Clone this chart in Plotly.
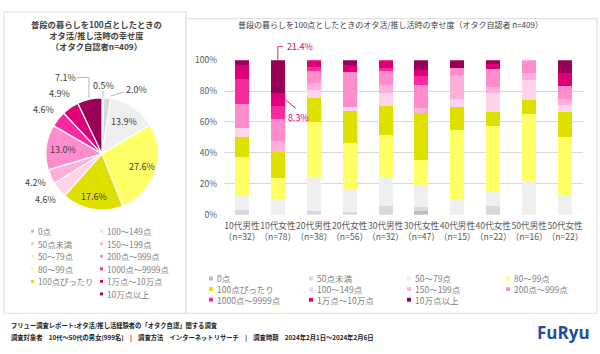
import math
import plotly.graph_objects as go

W, H = 600, 354
FONT = "Noto Sans CJK JP"

# ---------------- data ----------------
categories = ["0点", "50点未満", "50～79点", "80～99点", "100点ぴったり",
              "100～149点", "150～199点", "200点～999点", "1000点～9999点",
              "1万点～10万点", "10万点以上"]
colors = ["#bdbdbd", "#d9d9d9", "#efefef", "#ffff66", "#dfdf00",
          "#ffd3ea", "#ffb0da", "#ff8ccd", "#f72aa0", "#df0079", "#9b0058"]

pie_values = [0.5, 2.0, 13.9, 27.6, 17.6, 4.6, 4.2, 13.0, 4.6, 4.9, 7.1]

groups = ["10代男性", "10代女性", "20代男性", "20代女性", "30代男性",
          "30代女性", "40代男性", "40代女性", "50代男性", "50代女性"]
group_n = [32, 78, 38, 56, 32, 47, 15, 22, 16, 22]

# percentages per group, in category order
m10 = [0, 3.1, 9.4, 25.0, 12.5, 6.3, 0, 15.6, 15.6, 9.4, 3.1]
f10 = [0, 0, 9.3, 14.3, 17.2, 0, 6.8, 14.4, 8.3, 8.3, 21.4]
m20 = [0, 2.1, 22.3, 35.6, 15.6, 5.0, 4.8, 7.7, 2.3, 4.6, 0]
f20 = [0, 1.5, 14.5, 30.7, 20.1, 3.1, 0, 22.4, 0, 4.6, 3.1]
m30 = [0, 5.6, 18.6, 27.4, 18.9, 8.1, 5.4, 8.7, 2.1, 5.2, 0]
f30 = [2.1, 3.1, 14.2, 16.0, 30.6, 0, 3.3, 14.6, 5.6, 4.2, 6.3]
m40 = [0, 0, 9.4, 45.4, 15.0, 5.2, 15.6, 4.6, 0, 0, 4.8]
f40 = [0, 5.8, 8.8, 43.1, 9.0, 12.1, 3.5, 12.1, 0, 2.9, 2.7]
m50 = [0, 0, 21.0, 44.0, 9.0, 13.0, 4.5, 8.5, 0, 0, 0]
f50 = [0, 0, 12.2, 37.9, 16.6, 4.2, 4.1, 8.3, 0, 8.4, 8.3]
bar_rows = [m10, f10, m20, f20, m30, f30, m40, f40, m50, f50]

callouts = [("10代女性", "10万点以上", "21.4%"), ("10代女性", "1万点～10万点", "8.3%")]

pie_title = "普段の暮らしを100点としたときの<br>オタ活/推し活時の幸せ度<br>（オタク自認者n=409）"
bar_title = "普段の暮らしを100点としたときのオタ活/推し活時の幸せ度（オタク自認者 n=409）"
footer1 = "フリュー調査レポート:オタ活/推し活経験者の「オタク自認」関する調査"
footer2 = "調査対象者　10代～50代の男女(999名)　|　調査方法　インターネットリサーチ　|　調査時期　2024年2月1日～2024年2月6日"

# ---------------- geometry / style ----------------
BX0, BX1 = 224, 583      # bar plot area (px)
BY0, BY1 = 215, 55       # 0% and 100% (px)
PCX, PCY, PR = 102, 152, 58   # pie centre / radius (px)

pie_label_radius = [1.22, 1.3, 0.69, 0.72, 0.77, 1.27, 1.25, 0.67, 1.28, 1.3, 1.5]
pie_angle_nudge = [0, 22, 0, 0, 0, 0, 0, 0, 0, 0, -12]


def px(x):
    return x / W


def py(y):
    return 1 - y / H


def bar_x(i):
    return BX0 + (i + 0.5) * (BX1 - BX0) / len(groups)


def bar_y(v):
    return BY0 - v * (BY0 - BY1)


def note(text, x, y, size, color, xanchor="center", yanchor="middle", **kw):
    d = dict(text=text, x=px(x), y=py(y), xref="paper", yref="paper",
             xanchor=xanchor, yanchor=yanchor, showarrow=False,
             font=dict(size=size, color=color, family=kw.pop("family", FONT)))
    d.update(kw)
    return d


fig = go.Figure()

# stacked bars
for ci, cat in enumerate(categories):
    fig.add_trace(go.Bar(
        x=groups, y=[row[ci] / 100 for row in bar_rows], name=cat,
        marker=dict(color=colors[ci], line=dict(width=0)),
        showlegend=False, hoverinfo="skip"))

# pie
fig.add_trace(go.Pie(
    values=pie_values, labels=categories, sort=False, direction="clockwise",
    rotation=0, textinfo="none", showlegend=False, hoverinfo="skip",
    marker=dict(colors=colors, line=dict(color="white", width=1.2)),
    domain=dict(x=[px(PCX - PR), px(PCX + PR)], y=[py(PCY + PR), py(PCY - PR)])))

annotations = []
shapes = []

# panel frames
shapes.append(dict(type="rect", xref="paper", yref="paper", x0=px(4), x1=px(186),
                   y0=py(317), y1=py(5), line=dict(color="#e2e2e2", width=1.2), layer="below"))
shapes.append(dict(type="rect", xref="paper", yref="paper", x0=px(186), x1=px(597),
                   y0=py(317), y1=py(12), line=dict(color="#e2e2e2", width=1.2), layer="below"))

# titles
annotations.append(note("<b>" + pie_title + "</b>", 96, 9, 8.3, "#404040",
                        yanchor="top", align="center"))
annotations.append(note(bar_title, 391, 18, 8, "#404040"))

# pie labels
total = sum(pie_values)
cum = 0
mids = []
for i, v in enumerate(pie_values):
    mid = (cum + v / 2) / total * 360
    mids.append(mid)
    cum += v
    th = math.radians(mid + pie_angle_nudge[i])
    r = pie_label_radius[i] * PR
    lx, ly = PCX + r * math.sin(th), PCY - r * math.cos(th)
    annotations.append(note(f"{v:.1f}%", lx, ly, 9, "#404040"))


def edge(i, k=1.0):
    th = math.radians(mids[i])
    return PCX + k * PR * math.sin(th), PCY - k * PR * math.cos(th)


# leader lines for top labels
ex, ey = edge(0, 1.02)
shapes.append(dict(type="line", xref="paper", yref="paper", x0=px(ex), y0=py(ey),
                   x1=px(ex), y1=py(ey - 6), line=dict(color="#a6a6a6", width=0.8)))
ex, ey = edge(1, 1.02)
shapes.append(dict(type="line", xref="paper", yref="paper", x0=px(ex + 3), y0=py(ey - 1),
                   x1=px(ex + 16), y1=py(ey - 5), line=dict(color="#a6a6a6", width=0.8)))
ex, ey = edge(10, 1.02)
shapes.append(dict(type="path", xref="paper", yref="paper",
                   path=f"M {px(ex)},{py(ey)} L {px(ex)},{py(73)} L {px(ex - 12)},{py(73)}",
                   line=dict(color="#a6a6a6", width=0.8)))

# pie legend (two columns)
pie_rows_y = [232, 245, 258, 271, 284, 297]
for i, cat in enumerate(categories):
    col = 0 if i < 5 else 1
    row = i if i < 5 else i - 5
    mx = 31 if col == 0 else 100
    my = pie_rows_y[row]
    shapes.append(dict(type="rect", xref="paper", yref="paper", x0=px(mx), x1=px(mx + 3),
                       y0=py(my + 1.5), y1=py(my - 1.5), fillcolor=colors[i],
                       line=dict(width=0)))
    annotations.append(note(cat, mx + 5, my, 8.3, "#808080", xanchor="left"))

# bar legend (4 columns, row-major)
leg_cols_x = [209, 309, 407, 506]
leg_rows_y = [281, 292, 303]
for i, cat in enumerate(categories):
    mx = leg_cols_x[i % 4]
    my = leg_rows_y[i // 4]
    shapes.append(dict(type="rect", xref="paper", yref="paper", x0=px(mx), x1=px(mx + 4),
                       y0=py(my + 2), y1=py(my - 2), fillcolor=colors[i], line=dict(width=0)))
    annotations.append(note(cat, mx + 6, my, 8.5, "#808080", xanchor="left"))

# callouts on bars
bw = (BX1 - BX0) / len(groups) * 0.39
for g, cat, label in callouts:
    gi = groups.index(g)
    ci = categories.index(cat)
    row = bar_rows[gi]
    top = sum(row[:ci + 1]) / 100
    bottom = sum(row[:ci]) / 100
    cx = bar_x(gi)
    if ci == len(categories) - 1:
        yt = bar_y(top)
        shapes.append(dict(type="path", xref="paper", yref="paper",
                           path=f"M {px(cx)},{py(yt)} L {px(cx)},{py(yt - 14)} L {px(cx + 5)},{py(yt - 14)}",
                           line=dict(color="#c0186f", width=0.9)))
        annotations.append(note(label, cx + 7, yt - 14, 9, "#c0186f", xanchor="left"))
    else:
        ym = bar_y((top + bottom) / 2)
        xe = cx + bw / 2
        shapes.append(dict(type="line", xref="paper", yref="paper", x0=px(xe), y0=py(ym),
                           x1=px(xe + 11), y1=py(ym + 9), line=dict(color="#e0007f", width=0.9)))
        annotations.append(note(label, xe + 14, ym + 18, 9, "#e0007f"))

# footer
annotations.append(note("<b>" + footer1 + "</b>", 9, 330, 6.3, "#222222", xanchor="left"))
annotations.append(note("<b>" + footer2 + "</b>", 9, 342, 6.3, "#222222", xanchor="left"))
annotations.append(note("<b>FuRyu</b>", 563, 337, 17, "#1f4f9e", family="Open Sans"))

fig.update_layout(
    width=W, height=H, margin=dict(l=0, r=0, t=0, b=0),
    paper_bgcolor="white", plot_bgcolor="white",
    font=dict(family=FONT, color="#595959"),
    barmode="stack", bargap=0.61,
    xaxis=dict(domain=[px(BX0), px(BX1)], type="category",
               tickvals=groups,
               ticktext=[f"{g}<br>（n={n}）" for g, n in zip(groups, group_n)],
               tickangle=0, ticklabelstandoff=5,
               showgrid=False, showline=False, zeroline=False, ticks="",
               tickfont=dict(size=8.6, color="#595959")),
    yaxis=dict(domain=[py(BY0), py(BY1)], range=[0, 1],
               tickvals=[0, 0.2, 0.4, 0.6, 0.8, 1.0], tickformat=".0%",
               showgrid=True, gridcolor="#d9d9d9", gridwidth=1,
               showline=False, zeroline=False, ticks="", ticklabelstandoff=6,
               tickfont=dict(size=8.5, color="#595959")),
    shapes=shapes, annotations=annotations,
)

fig.write_html("out.html")
